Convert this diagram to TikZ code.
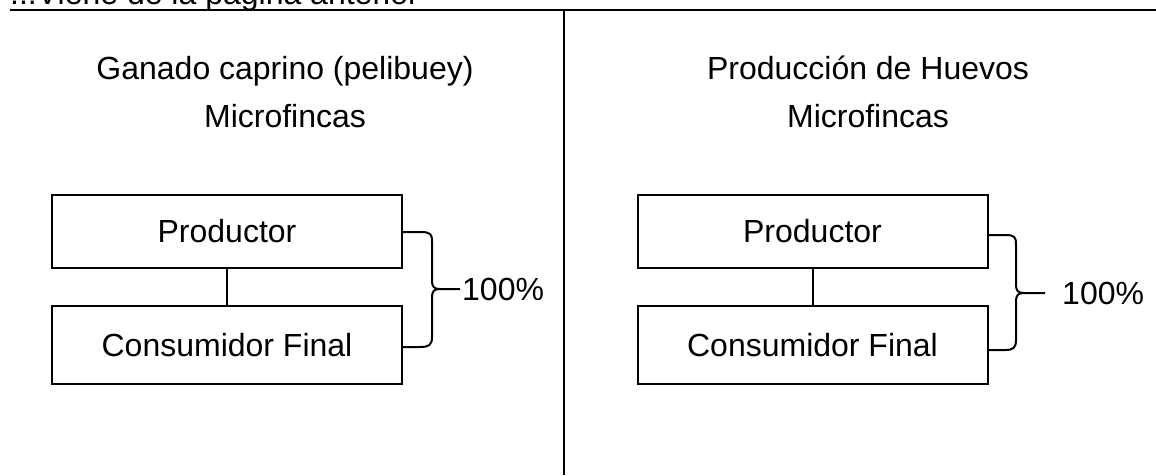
\documentclass[tikz,border=0pt]{standalone}
\usepackage{fontspec}
\setmainfont{Liberation Sans}
\usetikzlibrary{positioning}

\begin{document}
\begin{tikzpicture}[x=1pt, y=-1pt,
    txt/.style={font=\fontsize{32}{38}\selectfont, inner sep=0pt},
    box/.style={draw, line width=2pt, minimum width=350pt, font=\fontsize{32}{38}\selectfont},
    brace/.style={line width=2pt, line join=round}]
  % page frame and clipped header
  \useasboundingbox (0,0) rectangle (1156,475);
  \clip (0,0) rectangle (1156,475);
  \node[txt, anchor=base west] (head) at (10,4) {...Viene de la página anterior};
  \coordinate (ruleL) at (10,10);
  \coordinate (ruleR) at (1156,10);
  \coordinate (sepT) at (564,10);
  \coordinate (sepB) at (564,475);
  \draw[line width=2.5pt] (ruleL) -- (ruleR);
  \draw[line width=2pt] (sepT) -- (sepB);

  % left: ganado caprino
  \node[txt, anchor=base] (titA) at (285,79) {Ganado caprino (pelibuey)};
  \node[txt, anchor=base] (subA) at (285,127) {Microfincas};
  \node[box, minimum height=73pt] (prodA) at (227,231.5) {Productor};
  \node[box, minimum height=78pt] (consA) at (227,345) {Consumidor Final};
  \draw[line width=2pt] (prodA) -- (consA);
  \coordinate (tipA) at (460,289);
  \draw[brace] (prodA.east |- 0,232) -- (420,232) .. controls (431,232) and (432,234) .. (432,242)
    -- (432,280) .. controls (432,287) and (434,289) .. (440,289) -- (tipA);
  \draw[brace] (440,289) .. controls (434,289) and (432,291) .. (432,298)
    -- (432,337) .. controls (432,345) and (429,347) .. (420,347) -- (consA.east |- 0,347);
  \node[txt, right=2pt of tipA] (pctA) {100\%};

  % right: huevos
  \node[txt, anchor=base] (titB) at (868,79) {Producción de Huevos};
  \node[txt, anchor=base] (subB) at (868,127) {Microfincas};
  \node[box, minimum height=73pt] (prodB) at (812.5,231.5) {Productor};
  \node[box, minimum height=78pt] (consB) at (812.5,345) {Consumidor Final};
  \draw[line width=2pt] (prodB) -- (consB);
  \coordinate (tipB) at (1045,293);
  \draw[brace] (prodB.east |- 0,235) -- (1005,235) .. controls (1015,235) and (1016,237) .. (1016,245)
    -- (1016,284) .. controls (1016,291) and (1018,293) .. (1024,293) -- (tipB);
  \draw[brace] (1024,293) .. controls (1018,293) and (1016,295) .. (1016,302)
    -- (1016,340) .. controls (1016,348) and (1013,350) .. (1005,350) -- (consB.east |- 0,350);
  \node[txt, right=17pt of tipB] (pctB) {100\%};
\end{tikzpicture}
\end{document}
